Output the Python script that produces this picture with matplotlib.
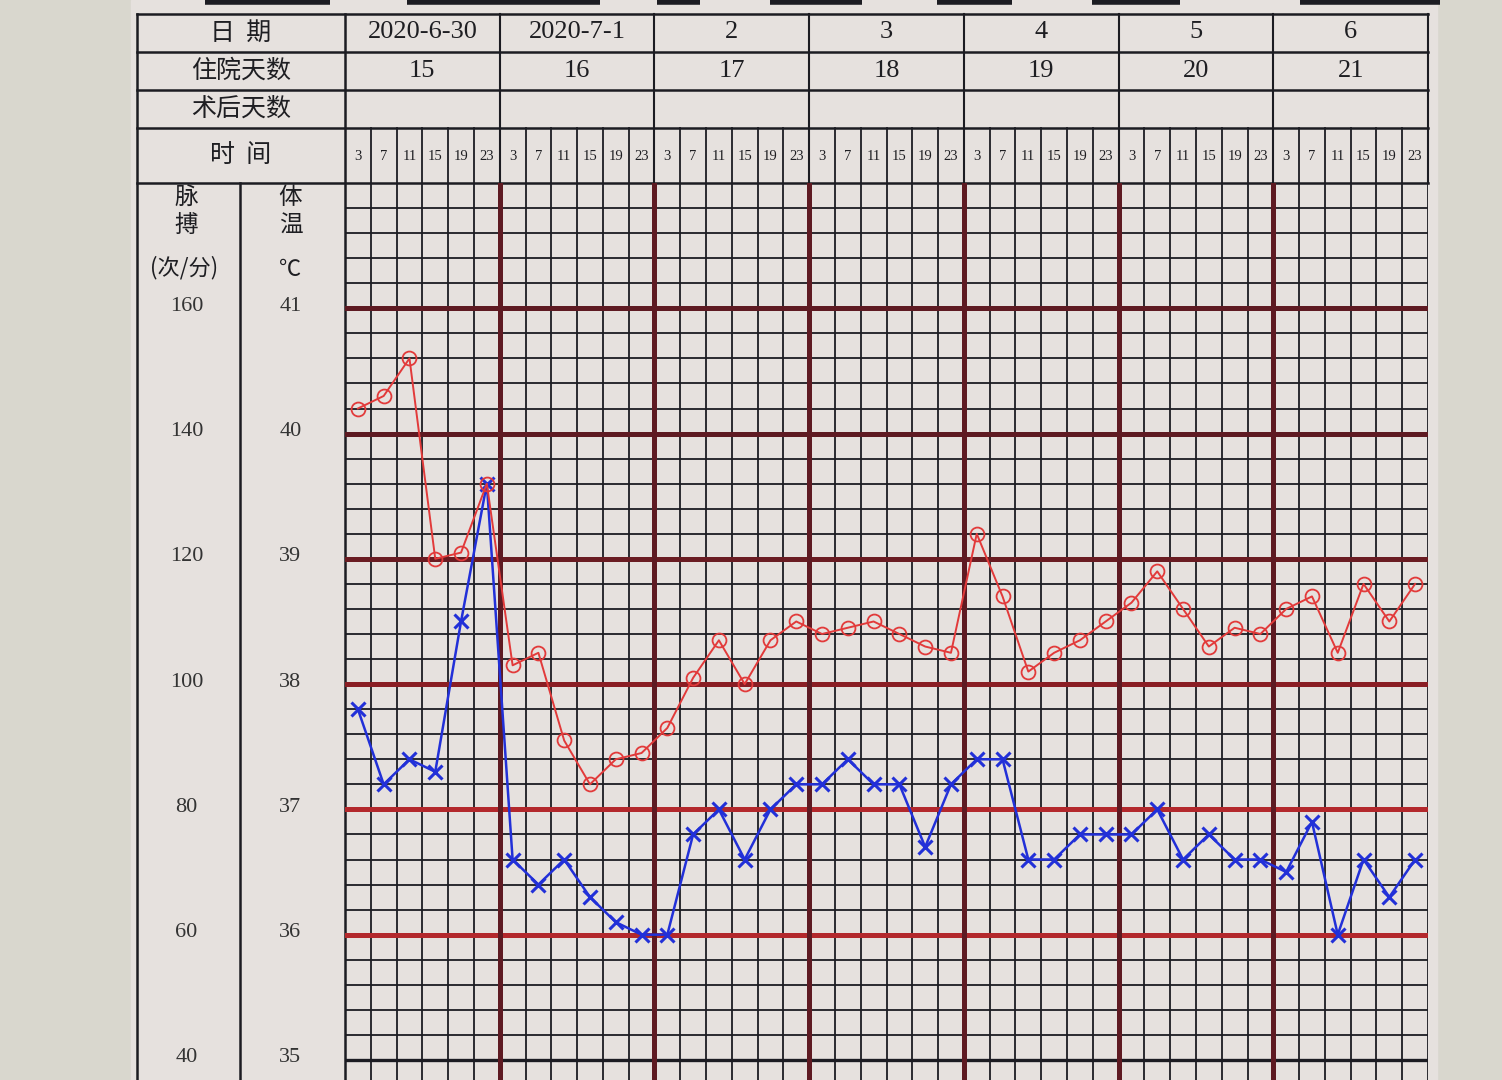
import numpy as np
import matplotlib
matplotlib.use('Agg')
import matplotlib.pyplot as plt
from matplotlib.patches import Rectangle

# ---------------- data ----------------
dates = ['2020-6-30', '2020-7-1', '2', '3', '4', '5', '6']
hosp_days = ['15', '16', '17', '18', '19', '20', '21']
times = ['3', '7', '11', '15', '19', '23']
pulse_ticks = [160, 140, 120, 100, 80, 60, 40]
temp_ticks = [41, 40, 39, 38, 37, 36, 35]

temperature = [37.8, 37.2, 37.4, 37.3, 38.5, 39.6,
               36.6, 36.4, 36.6, 36.3, 36.1, 36.0,
               36.0, 36.8, 37.0, 36.6, 37.0, 37.2,
               37.2, 37.4, 37.2, 37.2, 36.7, 37.2,
               37.4, 37.4, 36.6, 36.6, 36.8, 36.8,
               36.8, 37.0, 36.6, 36.8, 36.6, 36.6,
               36.5, 36.9, 36.0, 36.6, 36.3, 36.6]

pulse = [144, 146, 152, 120, 121, 132,
         103, 105, 91, 84, 88, 89,
         93, 101, 107, 100, 107, 110,
         108, 109, 110, 108, 106, 105,
         124, 114, 102, 105, 107, 110,
         113, 118, 112, 106, 109, 108,
         112, 114, 105, 116, 110, 116]

# ---------------- layout ----------------
W, H = 1502, 1080
X_L, X_M, X0, X1 = 137, 240, 345, 1428
ROWS = [14, 52, 90, 128, 183]
Y_TOP = 183
T_MIN, T_MAX = 34.84, 42.0

CJK = ['Noto Sans CJK SC', 'DejaVu Sans']
SERIF = ['Liberation Serif', 'Noto Sans CJK SC', 'DejaVu Sans']
TXT = '#1e1e22'
GRID_K = '#1c1c22'
MAROON = '#5e1a22'

fig = plt.figure(figsize=(W / 100, H / 100), dpi=100, facecolor='#d9d7ce')
ov = fig.add_axes([0, 0, 1, 1])
ov.set_xlim(0, W)
ov.set_ylim(H, 0)
ov.axis('off')
ov.add_patch(Rectangle((131, 0), 1306, H, color='#e6e1de', zorder=0))

# top fragments of upper form
for a, b in [(205, 330), (407, 600), (657, 700), (770, 862), (937, 1012), (1092, 1180), (1300, 1440)]:
    ov.plot([a, b], [1.5, 1.5], color=GRID_K, lw=4, solid_capstyle='butt', zorder=2)

n_days = len(dates)
n_t = len(times)
n_slots = n_days * n_t
slot_w = (X1 - X0) / n_slots

# header table lines
for y in ROWS:
    ov.plot([X_L, X1], [y, y], color=GRID_K, lw=1.8, zorder=2)
ov.plot([X_L, X_L], [ROWS[0], H], color=GRID_K, lw=1.8, zorder=2)
ov.plot([X0, X0], [ROWS[0], H], color=GRID_K, lw=1.8, zorder=2)
ov.plot([X1, X1], [ROWS[0], ROWS[-1]], color=GRID_K, lw=1.5, zorder=2)
ov.plot([X_M, X_M], [ROWS[-1], H], color=GRID_K, lw=1.8, zorder=2)
for d in range(1, n_days):
    x = X0 + d * n_t * slot_w
    ov.plot([x, x], [ROWS[0], ROWS[-1]], color=GRID_K, lw=1.5, zorder=2)
for k in range(1, n_slots):
    if k % n_t:
        x = X0 + k * slot_w
        ov.plot([x, x], [ROWS[3], ROWS[-1]], color=GRID_K, lw=1.3, zorder=2)

# header texts
ov.text(X_L + (X0 - X_L) / 2, 33, '日  期', ha='center', va='center', fontsize=18, family=CJK, color=TXT)
ov.text(X_L + (X0 - X_L) / 2, 71, '住院天数', ha='center', va='center', fontsize=18, family=CJK, color=TXT)
ov.text(X_L + (X0 - X_L) / 2, 109, '术后天数', ha='center', va='center', fontsize=18, family=CJK, color=TXT)
ov.text(X_L + (X0 - X_L) / 2, 155, '时  间', ha='center', va='center', fontsize=18, family=CJK, color=TXT)
for d in range(n_days):
    xc = X0 + (d + 0.5) * n_t * slot_w
    ov.text(xc, 32, dates[d], ha='center', va='center', fontsize=19, family=SERIF, color=TXT)
    ov.text(xc, 71, hosp_days[d], ha='center', va='center', fontsize=19, family=SERIF, color=TXT)
    for j in range(n_t):
        xs = X0 + (d * n_t + j + 0.5) * slot_w
        ov.text(xs, 157, times[j], ha='center', va='center', fontsize=10.5, family=SERIF, color=TXT)

# left column titles
xp = (X_L + X_M) / 2 - 2
xt = (X_M + X0) / 2 - 2
ov.text(xp, 197, '脉', ha='center', va='center', fontsize=17, family=CJK, color=TXT)
ov.text(xp, 226, '搏', ha='center', va='center', fontsize=17, family=CJK, color=TXT)
ov.text(xp - 2, 268, '(次/分)', ha='center', va='center', fontsize=16, family=CJK, color=TXT)
ov.text(xt, 197, '体', ha='center', va='center', fontsize=17, family=CJK, color=TXT)
ov.text(xt, 226, '温', ha='center', va='center', fontsize=17, family=CJK, color=TXT)
ov.text(xt, 270, '℃', ha='center', va='center', fontsize=16, family=CJK, color=TXT)

# ---------------- chart axes ----------------
ax = fig.add_axes([X0 / W, 0, (X1 - X0) / W, (H - Y_TOP) / H])
ax.set_xlim(0, n_slots)
ax.set_ylim(T_MIN, T_MAX)
ax.axis('off')
ax.patch.set_alpha(0)

# fine grid (temperature steps 0.2 degree)
for i in range(int(round((T_MAX - 35) / 0.2)) + 1):
    t = 35 + i * 0.2
    ti = int(round(t))
    if abs(t - ti) < 1e-6 and 35 < ti < 42:
        col = {41: MAROON, 40: MAROON, 39: '#6a1c22', 38: '#8a1e24', 37: '#b3282c', 36: '#b3282c'}[ti]
        ax.axhline(t, color=col, lw=3.6, zorder=2)
    elif abs(t - 35) < 1e-6:
        ax.axhline(t, color=GRID_K, lw=2.4, zorder=2)
    else:
        ax.axhline(t, color=GRID_K, lw=1.3, zorder=1)
for k in range(n_slots + 1):
    if k % n_t == 0 and 0 < k < n_slots:
        ax.axvline(k, color=MAROON, lw=3.6, zorder=2)
    else:
        ax.axvline(k, color=GRID_K, lw=1.3, zorder=1)

# scale labels
for p, t in zip(pulse_ticks, temp_ticks):
    yfig = ax.transData.transform((0, t))[1]
    ypix = H - yfig
    ov.text(xp, ypix - 2, str(p), ha='center', va='center', fontsize=16, family=SERIF, color='#333333')
    ov.text(xt, ypix - 2, str(t), ha='center', va='center', fontsize=16, family=SERIF, color='#333333')

x = np.arange(n_slots) + 0.5
ax.plot(x, temperature, color='#2230d8', lw=1.8, marker='x', ms=10, mew=2.2, zorder=5)

ax2 = ax.twinx()
ax2.set_ylim(40 + 20 * (T_MIN - 35), 40 + 20 * (T_MAX - 35))
ax2.axis('off')
ax2.plot(x, pulse, color='#e23a3a', lw=1.4, marker='o', ms=10, mfc='none', mec='#e23a3a', mew=1.3, zorder=5)

fig.savefig('out.png', dpi=100, facecolor=fig.get_facecolor())
